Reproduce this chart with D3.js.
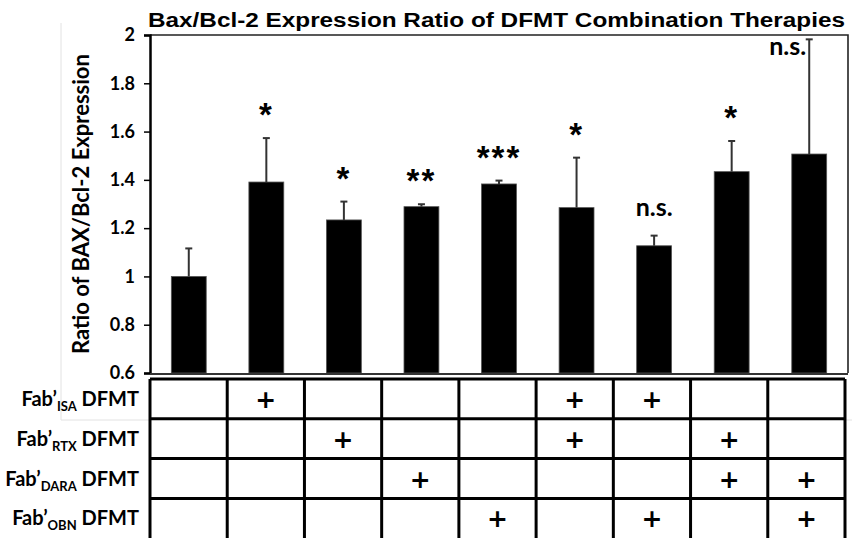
<!DOCTYPE html>
<html>
<head>
<meta charset="utf-8">
<script src="https://cdn.jsdelivr.net/npm/d3@7"></script>
<style>
  body { margin: 0; background: #fff; }
  svg { display: block; }
</style>
</head>
<body>
<svg id="chart" width="852" height="538"></svg>
<script>
var groups = ["Control", "ISA", "RTX", "DARA", "OBN", "ISA+RTX", "ISA+OBN", "RTX+DARA", "DARA+OBN"];
var ratios = [1.0, 1.391, 1.234, 1.289, 1.383, 1.285, 1.127, 1.434, 1.507];
var errors = [0.116, 0.182, 0.076, 0.01, 0.014, 0.207, 0.042, 0.127, 0.475];
var signif = ["", "*", "*", "**", "***", "*", "n.s.", "*", "n.s."];
var yTicks = [0.6, 0.8, 1, 1.2, 1.4, 1.6, 1.8, 2];
var rowNames = [["ISA", "Fab\u2019", " DFMT"], ["RTX", "Fab\u2019", " DFMT"], ["DARA", "Fab\u2019", " DFMT"], ["OBN", "Fab\u2019", " DFMT"]];
var treatment = [
  [0, 1, 0, 0, 0, 1, 1, 0, 0],
  [0, 0, 1, 0, 0, 1, 0, 1, 0],
  [0, 0, 0, 1, 0, 0, 0, 1, 1],
  [0, 0, 0, 0, 1, 0, 1, 0, 1]
];

(function() {
  var svg = d3.select("#chart");
  var plot = { left: 150, right: 848, top: 35, bottom: 373 };
  var table = { left: 150, right: 845, top: 379, rowH: 39.8 };
  var calibri = "Lato, 'Open Sans', sans-serif";

  // faint frame left over from the figure panel
  svg.append("path")
    .attr("d", "M61,23V420H150M843,420H852")
    .attr("fill", "none").attr("stroke", "#e2e2e2").attr("stroke-width", 1);

  var x = d3.scaleBand().domain(groups).range([plot.left, plot.right]).paddingInner(0.55).paddingOuter(0.275);
  var y = d3.scaleLinear().domain([0.6, 2]).range([plot.bottom, plot.top]);

  // title
  svg.append("text")
    .attr("x", 148).attr("y", 27)
    .attr("textLength", 697).attr("lengthAdjust", "spacingAndGlyphs")
    .style("font-family", "'Liberation Sans', Arial, sans-serif")
    .style("font-weight", "bold").style("font-size", "20px")
    .text("Bax/Bcl-2 Expression Ratio of DFMT Combination Therapies");

  // plot box (top and right)
  svg.append("path")
    .attr("d", "M" + plot.left + "," + plot.top + "H" + plot.right + "V" + plot.bottom)
    .attr("fill", "none").attr("stroke", "#222").attr("stroke-width", 1.6);

  // bars
  svg.selectAll("rect.bar").data(groups).enter().append("rect")
    .attr("class", "bar")
    .attr("x", function(d) { return x(d); })
    .attr("width", x.bandwidth())
    .attr("y", function(d, i) { return y(ratios[i]); })
    .attr("height", function(d, i) { return plot.bottom - y(ratios[i]); })
    .attr("fill", "#000").attr("stroke", "#555").attr("stroke-width", 0.8);

  // error bars (upper only)
  var eb = svg.append("g").attr("stroke", "#333").attr("stroke-width", 2);
  groups.forEach(function(g, i) {
    var cx = x(g) + x.bandwidth() / 2;
    var top = y(ratios[i] + errors[i]);
    eb.append("line").attr("x1", cx).attr("x2", cx).attr("y1", y(ratios[i])).attr("y2", top);
    eb.append("line").attr("x1", cx - 3.5).attr("x2", cx + 3.5).attr("y1", top).attr("y2", top);
  });

  // significance marks
  groups.forEach(function(g, i) {
    var s = signif[i];
    if (!s) return;
    var cx = x(g) + x.bandwidth() / 2;
    var top = y(ratios[i] + errors[i]);
    if (s === "n.s.") {
      var t = svg.append("text")
        .style("font-family", calibri).style("font-weight", "bold").style("font-size", "25px");
      if (top - 20 < plot.top + 10) {
        t.attr("x", cx - 3).attr("y", top + 16).attr("text-anchor", "end");
      } else {
        t.attr("x", cx).attr("y", top - 20).attr("text-anchor", "middle");
      }
      t.text(s);
    } else {
      svg.append("text")
        .attr("x", cx).attr("y", top - 12)
        .attr("text-anchor", "middle")
        .style("font-family", "'Liberation Sans', Arial, sans-serif")
        .style("font-weight", "bold").style("font-size", "33px")
        .style("letter-spacing", "2px")
        .text(s);
    }
  });

  // y axis
  var yAxis = d3.axisLeft(y).tickValues(yTicks).tickSize(6).tickPadding(9)
    .tickFormat(function(d) { return String(+d.toFixed(1)); });
  var ya = svg.append("g").attr("transform", "translate(" + plot.left + ",0)").call(yAxis);
  ya.select(".domain").attr("stroke", "#000").attr("stroke-width", 2.5);
  ya.selectAll(".tick line").attr("stroke", "#000").attr("stroke-width", 1.5);
  ya.selectAll(".tick text")
    .style("font-family", calibri).style("font-weight", "bold").style("font-size", "18px")
    .attr("fill", "#000");

  // bottom axis line
  svg.append("line")
    .attr("x1", plot.left).attr("x2", plot.right).attr("y1", plot.bottom + 1).attr("y2", plot.bottom + 1)
    .attr("stroke", "#333").attr("stroke-width", 2.2);

  svg.append("text")
    .attr("transform", "translate(89," + (plot.top + plot.bottom) / 2 + ") rotate(-90)")
    .attr("text-anchor", "middle")
    .style("font-family", calibri).style("font-weight", "bold").style("font-size", "22px")
    .text("Ratio of BAX/Bcl-2 Expression");

  // treatment table
  var tx = d3.scaleBand().domain(groups).range([table.left, table.right]);
  var ty = d3.scaleBand().domain(d3.range(rowNames.length))
    .range([table.top, table.top + table.rowH * rowNames.length]);
  var grid = svg.append("g").attr("stroke", "#000").attr("stroke-width", 3).attr("fill", "none");
  ty.domain().forEach(function(r) {
    grid.append("line").attr("x1", table.left).attr("x2", table.right)
      .attr("y1", ty(r)).attr("y2", ty(r));
  });
  groups.forEach(function(g) {
    grid.append("line").attr("x1", tx(g)).attr("x2", tx(g))
      .attr("y1", table.top).attr("y2", 538);
  });
  grid.append("line").attr("x1", table.right).attr("x2", table.right)
    .attr("y1", table.top).attr("y2", 538);

  treatment.forEach(function(row, r) {
    row.forEach(function(v, c) {
      if (!v) return;
      svg.append("text")
        .attr("x", tx(groups[c]) + tx.bandwidth() / 2)
        .attr("y", ty(r) + ty.bandwidth() / 2 + 9)
        .attr("text-anchor", "middle")
        .style("font-family", "'DejaVu Sans', sans-serif")
        .style("font-weight", "bold").style("font-size", "25px")
        .text("+");
    });
  });

  rowNames.forEach(function(n, r) {
    var t = svg.append("text")
      .attr("x", 139).attr("y", ty(r) + ty.bandwidth() / 2 + 7)
      .attr("text-anchor", "end")
      .style("font-family", calibri).style("font-weight", "bold").style("font-size", "20px");
    t.append("tspan").text(n[1]);
    t.append("tspan").attr("dy", 5).style("font-size", "13px").text(n[0]);
    t.append("tspan").attr("dy", -5).text(n[2]);
  });
})();
</script>
</body>
</html>
